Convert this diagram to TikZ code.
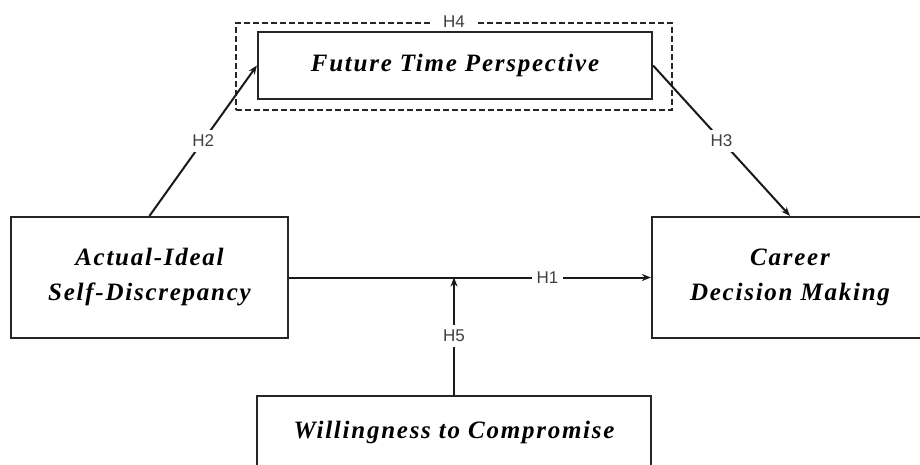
\documentclass[tikz,border=0pt]{standalone}
\usepackage{fontspec}
\setmainfont{Liberation Serif}
\newfontfamily\constructfont[LetterSpace=7]{Liberation Serif}
\newfontfamily\labelfont{Liberation Sans}
\usetikzlibrary{arrows.meta}
\begin{document}
\begin{tikzpicture}[x=1pt,y=-1pt,
  construct/.style={draw=black!85, line width=2.2pt, fill=white, inner sep=0pt,
    align=center, font=\constructfont\fontsize{25}{35}\selectfont\bfseries\itshape},
  hpath/.style={draw=black!90, line width=2pt,
    -{Stealth[length=9pt,width=7pt]}},
  hyp/.style={fill=white, inner sep=5pt, font=\labelfont\fontsize{17}{17}\selectfont, text=black!75}
]
\useasboundingbox (0,0) rectangle (920,464);
\clip (0,0) rectangle (920,464);

% constructs
\node[construct, minimum width=277pt, minimum height=121pt] (aisd) at (149.5,277.5)
  {Actual-Ideal\\Self-Discrepancy};
\node[construct, minimum width=276pt, minimum height=121pt] (cdm) at (790,277.5)
  {Career\\Decision Making};
\node[draw=black!85, dashed, dash pattern=on 6pt off 3pt, line width=1.8pt,
  minimum width=436pt, minimum height=87pt] (h4box) at (454,66.5) {};
\node[construct, minimum width=394pt, minimum height=67pt] (ftp) at (455,65.5)
  {Future Time Perspective};
\node[construct, minimum width=394pt, minimum height=72pt] (wtc) at (454,432)
  {Willingness to Compromise};

\node[hyp, inner xsep=10pt, inner ysep=3pt] (h4) at (h4box.north) {H4};

% hypothesised paths
\coordinate (mod) at (454,277.5);
\draw[hpath] (aisd.east) -- node[hyp, pos=0.714] {H1} (cdm.west);
\draw[hpath] (aisd.north) -- node[hyp, pos=0.5] {H2} (ftp.west);
\draw[hpath] (ftp.east) -- node[hyp, pos=0.5] {H3} (cdm.north);
\draw[hpath] (wtc.north) -- node[hyp, pos=0.5] {H5} (mod);
\end{tikzpicture}
\end{document}
